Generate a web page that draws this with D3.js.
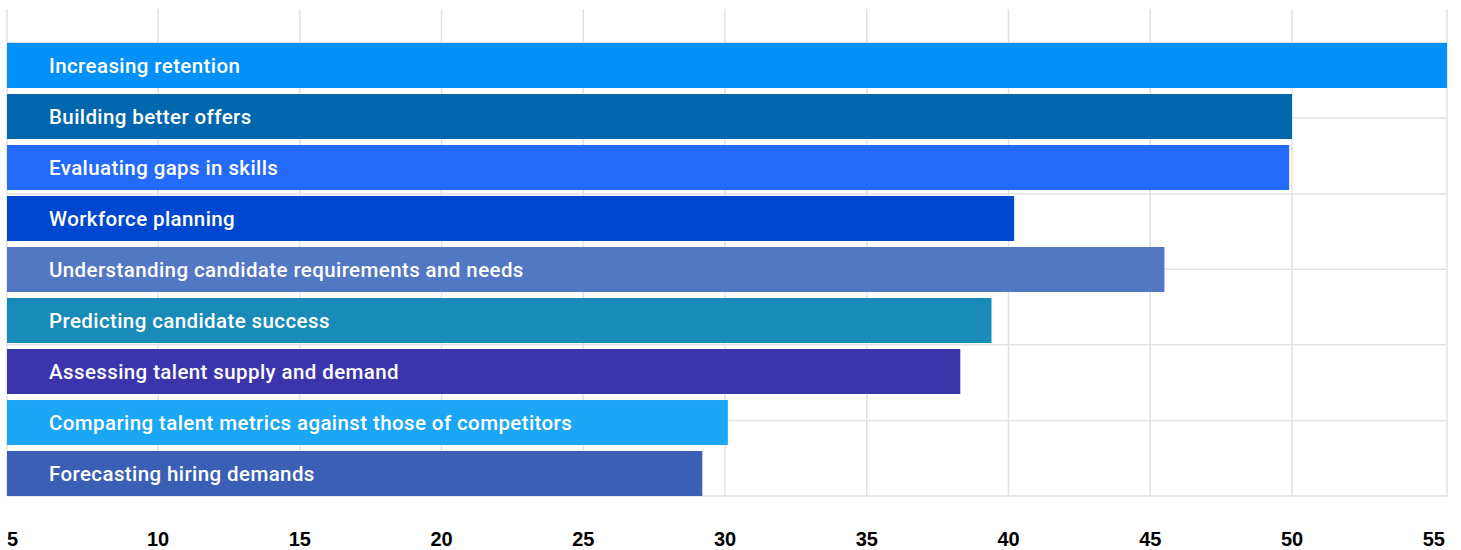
<!DOCTYPE html>
<html lang="en">
<head>
    <meta charset="UTF-8">
    <title>Talent analytics uses</title>
    <script src="https://d3js.org/d3.v7.min.js"></script>
    <style>
        body {
            margin: 0;
            background-color: #ffffff;
        }
        .bar-label {
            font-family: Roboto, sans-serif;
            font-weight: 500;
            font-size: 20.5px;
            letter-spacing: 0.4px;
            fill: #ffffff;
        }
        .tick-label {
            font-family: "Liberation Sans", Arial, sans-serif;
            font-weight: bold;
            font-size: 20px;
            fill: #000000;
        }
    </style>
</head>
<body>
    <svg width="1461" height="550"></svg>

    <script>
        // Data
        var categories = [
            "Increasing retention",
            "Building better offers",
            "Evaluating gaps in skills",
            "Workforce planning",
            "Understanding candidate requirements and needs",
            "Predicting candidate success",
            "Assessing talent supply and demand",
            "Comparing talent metrics against those of competitors",
            "Forecasting hiring demands"
        ];
        var values = [56, 50, 49.9, 40.2, 45.5, 39.4, 38.3, 30.1, 29.2];
        var barColors = ["#0390f9", "#0066ae", "#246bfb", "#0047cf", "#5277c3",
                         "#198bb9", "#3a35ad", "#1ba6f6", "#3a5fb5"];
        var tickValues = [5, 10, 15, 20, 25, 30, 35, 40, 45, 50, 55];

        // Plot frame
        var plotLeft = 7, plotRight = 1447, plotTop = 9, plotBottom = 496;

        var svg = d3.select("svg");

        // x scale: 10 -> 158, 50 -> 1292
        var x = d3.scaleLinear()
                  .domain([10, 50])
                  .range([158, 1292]);

        var y = d3.scaleBand()
                  .domain(categories)
                  .range([43, plotBottom])
                  .paddingInner(0.118)
                  .paddingOuter(0);

        // horizontal grid (6 equal intervals)
        var yGrid = d3.scaleLinear().domain([0, 6]).range([42.5, plotBottom]);

        var grid = svg.append("g")
                      .attr("stroke", "#e2e2e2")
                      .attr("stroke-width", 1.5);

        grid.selectAll(".hgrid")
            .data(d3.range(0, 7))
            .enter().append("line")
            .attr("class", "hgrid")
            .attr("x1", plotLeft)
            .attr("x2", plotRight)
            .attr("y1", function(d) { return yGrid(d); })
            .attr("y2", function(d) { return yGrid(d); });

        // vertical grid: frame edges + inner ticks
        var vLines = [plotLeft, plotRight].concat(tickValues.slice(1, -1).map(function(d) { return x(d); }));
        grid.selectAll(".vgrid")
            .data(vLines)
            .enter().append("line")
            .attr("class", "vgrid")
            .attr("x1", function(d) { return d; })
            .attr("x2", function(d) { return d; })
            .attr("y1", plotTop)
            .attr("y2", plotBottom);

        // bars
        svg.append("defs").append("clipPath")
           .attr("id", "plot-clip")
           .append("rect")
           .attr("x", plotLeft)
           .attr("y", plotTop)
           .attr("width", plotRight - plotLeft)
           .attr("height", plotBottom - plotTop);

        var bars = svg.append("g").attr("clip-path", "url(#plot-clip)");

        bars.selectAll("rect")
            .data(categories)
            .enter().append("rect")
            .attr("x", plotLeft)
            .attr("y", function(d) { return y(d); })
            .attr("width", function(d, i) { return x(values[i]) - plotLeft; })
            .attr("height", y.bandwidth())
            .attr("fill", function(d, i) { return barColors[i]; });

        // labels inside bars
        svg.append("g")
           .selectAll("text")
           .data(categories)
           .enter().append("text")
           .attr("class", "bar-label")
           .attr("x", 49)
           .attr("y", function(d) { return y(d) + y.bandwidth() / 2; })
           .attr("dy", "0.37em")
           .text(function(d) { return d; });

        // x axis tick labels (first one kept inside the frame)
        svg.append("g")
           .selectAll("text")
           .data(tickValues)
           .enter().append("text")
           .attr("class", "tick-label")
           .attr("x", function(d, i) { return i === 0 ? plotLeft : x(d); })
           .attr("y", 546)
           .attr("text-anchor", function(d, i) { return i === 0 ? "start" : "middle"; })
           .text(function(d) { return d; });
    </script>
</body>
</html>
